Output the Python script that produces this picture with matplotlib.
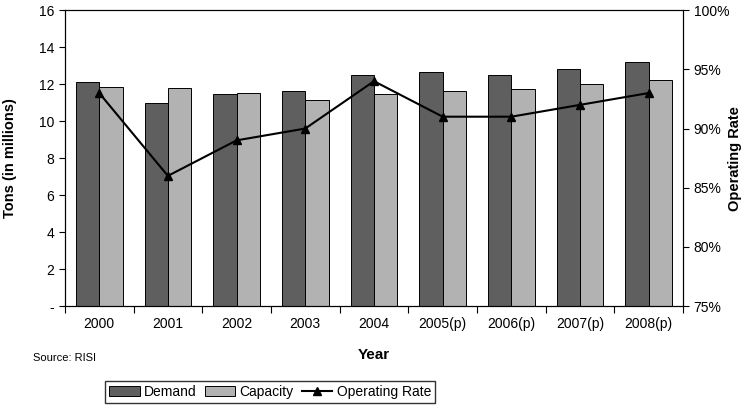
import numpy as np
import matplotlib.pyplot as plt
from matplotlib.ticker import FixedLocator, FuncFormatter

plt.rcParams['font.family'] = ['Liberation Sans', 'DejaVu Sans']

years = ["2000", "2001", "2002", "2003", "2004", "2005(p)", "2006(p)", "2007(p)", "2008(p)"]
demand = [12.09, 11.0, 11.49, 11.62, 12.5, 12.66, 12.48, 12.81, 13.22]
capacity = [11.83, 11.78, 11.53, 11.13, 11.49, 11.62, 11.74, 12.0, 12.25]
op_rate = [93, 86, 89, 90, 94, 91, 91, 92, 93]

fig = plt.figure(figsize=(7.54, 4.07), dpi=100)
ax = fig.add_axes([0.086, 0.248, 0.82, 0.727])
x = np.arange(len(years))
w = 0.34

ax.bar(x - w / 2, demand, w, color="#5f5f5f", edgecolor="black", linewidth=0.7, label="Demand")
ax.bar(x + w / 2, capacity, w, color="#b2b2b2", edgecolor="black", linewidth=0.7, label="Capacity")
ax.set_xlim(-0.5, len(years) - 0.5)
ax.set_ylim(0, 16)
ax.set_yticks(range(0, 17, 2))
ax.yaxis.set_major_formatter(FuncFormatter(lambda v, p: "-" if v == 0 else f"{v:.0f}"))
ax.set_xticks(x)
ax.set_xticklabels(years)
ax.tick_params(axis="x", length=0, labelsize=10, pad=8)
ax.xaxis.set_minor_locator(FixedLocator(np.arange(-0.5, len(years), 1.0)))
ax.tick_params(axis="x", which="minor", length=5, direction="out", width=0.8)
ax.tick_params(axis="y", labelsize=10, length=4, width=0.8)
ax.set_ylabel("Tons (in millions)", fontsize=10.5, fontweight="bold")
ax.yaxis.set_label_coords(-0.078, 0.5)
ax.set_xlabel("Year", fontsize=11, fontweight="bold", labelpad=12)

ax2 = ax.twinx()
ax2.plot(x, op_rate, color="black", marker="^", markersize=6, linewidth=1.5, label="Operating Rate")
ax2.set_ylim(75, 100)
ax2.set_yticks(range(75, 101, 5))
ax2.set_yticklabels([f"{v}%" for v in range(75, 101, 5)])
ax2.tick_params(axis="y", labelsize=10, length=4, width=0.8)
ax2.set_ylabel("Operating Rate", fontsize=10.5, fontweight="bold", rotation=90)
ax2.yaxis.set_label_coords(1.073, 0.5)

for a in (ax, ax2):
    for s in a.spines.values():
        s.set_linewidth(0.8)

h1, l1 = ax.get_legend_handles_labels()
h2, l2 = ax2.get_legend_handles_labels()
fig.legend(h1 + h2, l1 + l2, loc="center", bbox_to_anchor=(0.358, 0.037), ncol=3,
           frameon=True, fancybox=False, edgecolor="black", fontsize=10,
           handlelength=2.2, handletextpad=0.3, columnspacing=0.6, borderpad=0.3)

fig.text(0.044, 0.113, "Source: RISI", fontsize=8)

fig.savefig("out.png", dpi=100)
